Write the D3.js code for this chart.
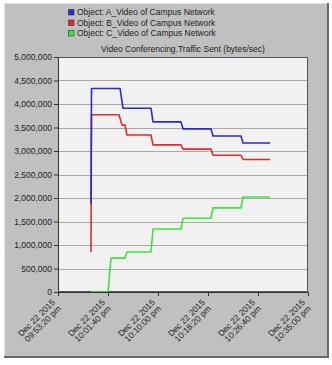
<!DOCTYPE html>
<html>
<head>
<meta charset="utf-8">
<script src="https://cdn.jsdelivr.net/npm/d3@7"></script>
<style>
  body { margin: 0; background: #fff; }
  text { font-family: "Liberation Sans", Arial, sans-serif; fill: #222; }
</style>
</head>
<body>
<script>
var svgWidth = 332, svgHeight = 365;
var margin = { top: 57, right: 24, bottom: 73, left: 58 },
    width = 308 - margin.left,
    height = 292 - margin.top;

var seriesNames = ["Object: A_Video of Campus Network", "Object: B_Video of Campus Network", "Object: C_Video of Campus Network"];
var seriesColors = ["#2a2ad0", "#dd2c2c", "#3ee23e"];

// clock times (Dec 22 2015) and bytes/sec for each series
var timesA = ["21:58:50", "21:58:55", "22:03:40", "22:04:10", "22:08:50", "22:09:10", "22:13:50", "22:14:10", "22:18:50", "22:19:10", "22:23:50", "22:24:10", "22:28:40"];
var valuesA = [1870000, 4330000, 4330000, 3910000, 3910000, 3620000, 3620000, 3470000, 3470000, 3320000, 3320000, 3170000, 3170000];

var timesB = ["21:58:50", "21:58:55", "22:03:30", "22:04:00", "22:04:30", "22:04:50", "22:08:50", "22:09:10", "22:13:50", "22:14:10", "22:18:50", "22:19:10", "22:23:50", "22:24:10", "22:28:40"];
var valuesB = [850000, 3770000, 3770000, 3550000, 3550000, 3340000, 3340000, 3130000, 3130000, 3040000, 3040000, 2910000, 2910000, 2820000, 2820000];

var timesC = ["21:58:50", "22:01:40", "22:02:10", "22:04:30", "22:04:50", "22:08:50", "22:09:10", "22:13:50", "22:14:10", "22:18:50", "22:19:10", "22:23:50", "22:24:10", "22:28:40"];
var valuesC = [0, 0, 720000, 720000, 850000, 850000, 1340000, 1340000, 1570000, 1570000, 1790000, 1790000, 2020000, 2020000];

var tickTimes = ["21:53:20", "22:01:40", "22:10:00", "22:18:20", "22:26:40", "22:35:00"];
var yTicks = [0, 500000, 1000000, 1500000, 2000000, 2500000, 3000000, 3500000, 4000000, 4500000, 5000000];

var parse = d3.timeParse("%Y-%m-%d %H:%M:%S");
function toDate(s) { return parse("2015-12-22 " + s); }

var series = [
  { times: timesA, values: valuesA },
  { times: timesB, values: valuesB },
  { times: timesC, values: valuesC }
].map(function (s, i) {
  return { name: seriesNames[i], color: seriesColors[i],
           points: s.times.map(function (t, j) { return { t: toDate(t), v: s.values[j] }; }) };
});

var svg = d3.select("body").append("svg").attr("width", svgWidth).attr("height", svgHeight);

// grey panel with bevel border
svg.append("rect").attr("x", 4).attr("y", 3).attr("width", 324).attr("height", 354).attr("fill", "#c0c0c0");
svg.append("line").attr("x1", 4).attr("x2", 328).attr("y1", 3.5).attr("y2", 3.5).attr("stroke", "#e4e4e4");
svg.append("line").attr("x1", 4.5).attr("x2", 4.5).attr("y1", 3).attr("y2", 357).attr("stroke", "#e4e4e4");
svg.append("line").attr("x1", 328).attr("x2", 328).attr("y1", 3).attr("y2", 358).attr("stroke", "#6a6a6a").attr("stroke-width", 2);
svg.append("line").attr("x1", 4).attr("x2", 329).attr("y1", 357).attr("y2", 357).attr("stroke", "#6a6a6a").attr("stroke-width", 2);

// legend
var legend = svg.append("g").attr("transform", "translate(68,9)");
series.forEach(function (s, i) {
  var row = legend.append("g").attr("transform", "translate(0," + (i * 10.5) + ")");
  row.append("rect").attr("x", 0.5).attr("y", 0.5).attr("width", 5.5).attr("height", 5.5)
    .attr("fill", s.color).attr("stroke", "#333").attr("stroke-width", 0.6);
  row.append("text").attr("x", 9).attr("y", 6).style("font-size", "8.5px").text(s.name);
});

svg.append("text").attr("x", 183).attr("y", 52).attr("text-anchor", "middle")
  .style("font-size", "8.5px").text("Video Conferencing.Traffic Sent (bytes/sec)");

var x = d3.scaleTime().domain([toDate(tickTimes[0]), toDate(tickTimes[tickTimes.length - 1])]).range([0, width]);
var y = d3.scaleLinear().domain([0, 5000000]).range([height, 0]);

var g = svg.append("g").attr("transform", "translate(" + margin.left + "," + margin.top + ")");

g.append("rect").attr("width", width).attr("height", height).attr("fill", "#f1f1f1");

g.append("g").selectAll("line").data(yTicks.slice(1, -1)).enter().append("line")
  .attr("x1", 0).attr("x2", width)
  .attr("y1", function (d) { return Math.round(y(d)) + 0.5; })
  .attr("y2", function (d) { return Math.round(y(d)) + 0.5; })
  .attr("stroke", "#a8a8a8");

g.append("rect").attr("x", 0.5).attr("y", 0.5).attr("width", width - 1).attr("height", height - 1)
  .attr("fill", "none").attr("stroke", "#555");

var line = d3.line().x(function (d) { return x(d.t); }).y(function (d) { return y(d.v); });

// draw C, then B, then A so that A sits on top
g.selectAll(".series").data(series.slice().reverse()).enter().append("path")
  .attr("class", "series")
  .attr("d", function (d) { return line(d.points); })
  .attr("fill", "none")
  .attr("stroke", function (d) { return d.color; })
  .attr("stroke-width", 1.6)
  .attr("stroke-linejoin", "round");

// y axis
var yAxis = g.append("g")
  .call(d3.axisLeft(y).tickValues(yTicks).tickSize(4).tickPadding(2).tickFormat(d3.format(",")));
yAxis.select(".domain").attr("stroke", "#333");
yAxis.selectAll(".tick line").attr("stroke", "#333");
yAxis.selectAll("text").style("font-size", "8.5px").attr("fill", "#222");

// x axis
var xAxis = g.append("g").attr("transform", "translate(0," + height + ")")
  .call(d3.axisBottom(x).tickValues(tickTimes.map(toDate)).tickSize(4).tickFormat(""));
xAxis.select(".domain").attr("stroke", "#333");
xAxis.selectAll(".tick line").attr("stroke", "#333");

var fmtDate = d3.timeFormat("%b %d %Y");
var fmtTime = d3.timeFormat("%I:%M:%S %p");
xAxis.selectAll(".tick").each(function (d) {
  var t = d3.select(this).append("text")
    .attr("transform", "translate(-3,11) rotate(-45)")
    .attr("text-anchor", "end")
    .style("font-size", "8.5px")
    .attr("fill", "#222");
  t.append("tspan").attr("x", 0).attr("dy", 0).text(fmtDate(d));
  t.append("tspan").attr("x", 0).attr("dy", "1.0em").text(fmtTime(d).toLowerCase());
});
</script>
</body>
</html>
